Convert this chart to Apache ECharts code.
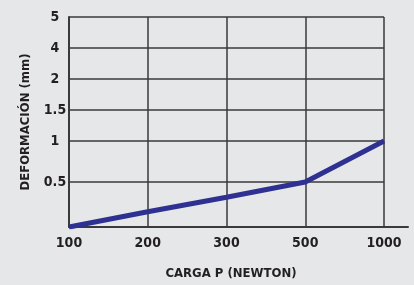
<!DOCTYPE html>
<html>
<head>
<meta charset="utf-8">
<script src="https://cdn.jsdelivr.net/npm/echarts@6/dist/echarts.min.js"></script>
<style>
  html, body { margin: 0; padding: 0; background: #e6e7e9; }
  #chart { width: 414px; height: 285px; }
</style>
</head>
<body>
<div id="chart"></div>
<script>
// carga P (newton) on the x axis, read as categories
const loadLabels = ['100', '200', '300', '500', '1000'];
// deformation (mm)
const deformation = [0, 0.17, 0.33, 0.5, 1];
// y ticks of the (non linear) printed scale
const yTickValues = [0, 0.5, 1, 1.5, 2, 4, 5];
const yTickLabels = ['', '0.5', '1', '1.5', '2', '4', '5'];

// the printed y scale is uneven: relative height of each band between ticks
const yBandHeights = [45, 41, 31, 31, 31, 31];
const yCum = [0];
yBandHeights.forEach((h, i) => yCum.push(yCum[i] + h));

function toAxis(v) {
  for (let i = 0; i < yTickValues.length - 1; i++) {
    const a = yTickValues[i];
    const b = yTickValues[i + 1];
    if (v <= b || i === yTickValues.length - 2) {
      return yCum[i] + ((v - a) / (b - a)) * yBandHeights[i];
    }
  }
  return 0;
}

const font = '"DejaVu Sans Condensed", "Roboto", sans-serif';
const ink = '#231f20';
const gridColor = '#3a3a3a';

const chart = echarts.init(document.getElementById('chart'), null, { renderer: 'canvas' });

chart.setOption({
  backgroundColor: '#e6e7e9',
  animation: false,
  grid: [
    { left: 69, right: 30, top: 17, bottom: 58 },
    { left: 69, right: 6, top: 17, bottom: 58 },
  ],
  xAxis: [
    {
      type: 'category',
      gridIndex: 0,
      data: loadLabels,
      boundaryGap: false,
      name: 'CARGA P (NEWTON)',
      nameLocation: 'middle',
      nameGap: 40,
      nameTextStyle: { fontFamily: font, fontWeight: 'bold', fontSize: 13, color: ink, padding: [0, 0, 0, 9] },
      axisLine: { show: false },
      axisTick: { show: false },
      axisLabel: { fontFamily: font, fontWeight: 'bold', fontSize: 14, color: ink, margin: 9 },
      splitLine: { show: true, lineStyle: { color: gridColor, width: 1.5 } },
    },
    {
      type: 'value',
      gridIndex: 1,
      axisLine: { show: true, onZero: false, lineStyle: { color: gridColor, width: 2 } },
      axisTick: { show: false },
      axisLabel: { show: false },
      splitLine: { show: false },
    },
  ],
  yAxis: [
    {
      type: 'value',
      gridIndex: 0,
      min: 0,
      max: yCum[yCum.length - 1],
      name: 'DEFORMACIÓN (mm)',
      nameLocation: 'middle',
      nameGap: 37,
      nameTextStyle: { fontFamily: font, fontWeight: 'bold', fontSize: 13, color: ink },
      axisLine: { show: true, lineStyle: { color: gridColor, width: 2 } },
      axisTick: { show: false, customValues: yCum },
      axisLabel: {
        customValues: yCum,
        align: 'center',
        margin: 14,
        fontFamily: font,
        fontWeight: 'bold',
        fontSize: 14,
        color: ink,
        formatter: (v) => {
          const i = yCum.findIndex((c) => Math.abs(c - v) < 0.01);
          return i >= 0 ? yTickLabels[i] : '';
        },
      },
      splitLine: { show: true, lineStyle: { color: gridColor, width: 1.5 } },
    },
    {
      type: 'value',
      gridIndex: 1,
      show: false,
    },
  ],
  series: [
    {
      type: 'line',
      xAxisIndex: 0,
      yAxisIndex: 0,
      data: deformation.map((v, i) => [loadLabels[i], toAxis(v)]),
      showSymbol: false,
      lineStyle: { color: '#2e3192', width: 5 },
      z: 5,
    },
  ],
});
</script>
</body>
</html>
